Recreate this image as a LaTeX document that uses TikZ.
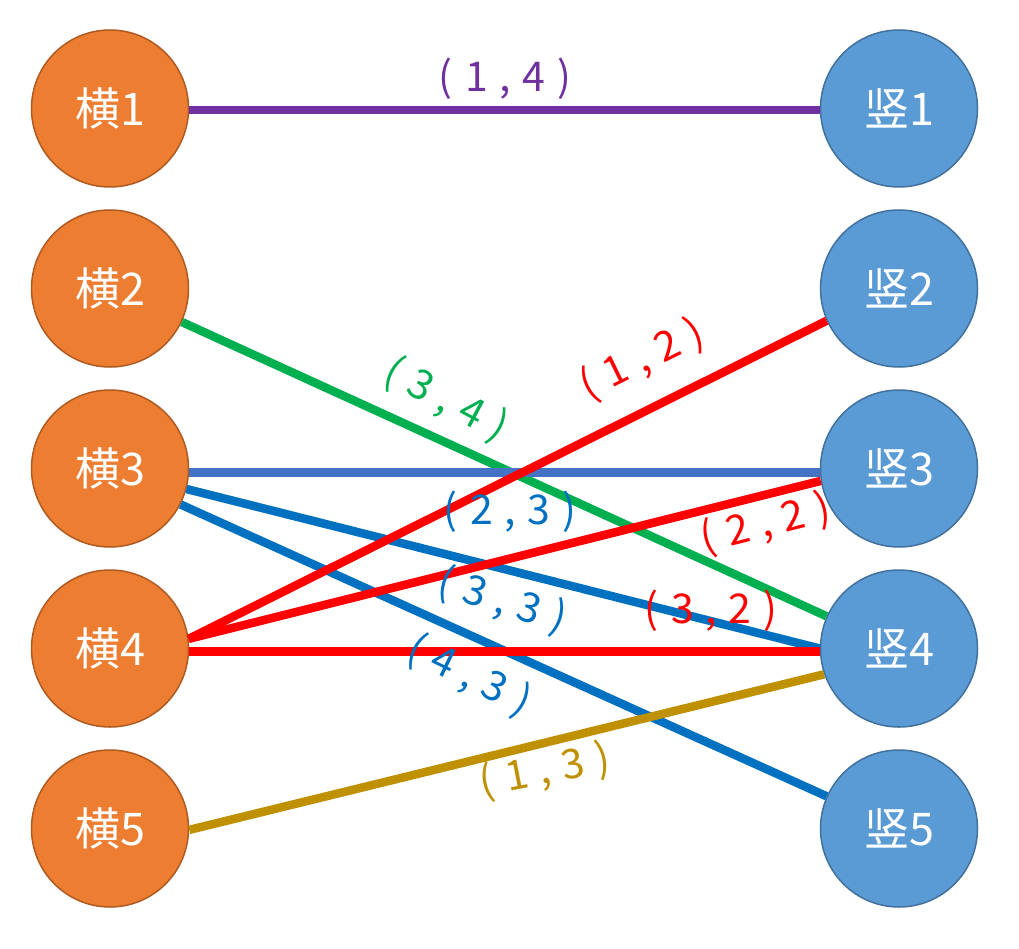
\documentclass[tikz,border=0pt]{standalone}
\usepackage{fontspec}
\setmainfont{Noto Sans CJK SC}
\definecolor{hfill}{HTML}{ED7D31}
\definecolor{hline}{HTML}{AE5A21}
\definecolor{sfill}{HTML}{5B9BD5}
\definecolor{sline}{HTML}{41719C}
\definecolor{cpurple}{HTML}{7030A0}
\definecolor{cgreen}{HTML}{00B050}
\definecolor{clblue}{HTML}{4472C4}
\definecolor{cblue}{HTML}{0070C0}
\definecolor{cred}{HTML}{FF0000}
\definecolor{cgold}{HTML}{BF9000}
\newcommand{\pairtxt}[2]{(\hspace{0.3em}#1\hspace{0.28em},\hspace{0.28em}#2\hspace{0.3em})}
\begin{document}
\begin{tikzpicture}[x=1pt,y=-1pt,
  hnode/.style={circle, minimum size=157pt, inner sep=0pt, fill=hfill, draw=hline, line width=1.5pt, text=white, font=\fontsize{45}{50}\selectfont},
  snode/.style={circle, minimum size=157pt, inner sep=0pt, fill=sfill, draw=sline, line width=1.5pt, text=white, font=\fontsize{45}{50}\selectfont},
  link/.style={line width=8.5pt},
  lab/.style={inner sep=0pt, font=\fontsize{41}{46}\selectfont}]
\useasboundingbox (0,0) rectangle (1019,949);
\node[hnode] (h1) at (110,108.5) {横1};
\node[hnode] (h2) at (110,288.5) {横2};
\node[hnode] (h3) at (110,468.5) {横3};
\node[hnode] (h4) at (110,648.5) {横4};
\node[hnode] (h5) at (110,828.5) {横5};
\node[snode] (s1) at (899,108.5) {竖1};
\node[snode] (s2) at (899,288.5) {竖2};
\node[snode] (s3) at (899,468.5) {竖3};
\node[snode] (s4) at (899,648.5) {竖4};
\node[snode] (s5) at (899,828.5) {竖5};
% connectors
\draw[link, cpurple] (h1.-1) -- (s1.181);
\draw[link, cgreen] (h2.-25) -- (s4.156.7);
\draw[link, clblue] (h3.-3) -- (s3.183);
\draw[link, cblue] (h3.-15.6) -- (s4.180);
\draw[link, cblue] (h3.-27.5) -- (s5.156.7);
\draw[link, cred] (h4.7.7) -- (s2.204.6);
\draw[link, cred] (h4.7.7) -- (s3.189.7);
\draw[link, cred] (h4.-2.5) -- (s4.182.5);
\draw[link, cgold] (h5.-1) -- (s4.199.7);
% labels
\node[lab, text=cpurple] (l14) at (505,79) {\pairtxt{1}{4}};
\node[lab, text=cgreen, rotate=-28] (l34) at (446,400) {\pairtxt{3}{4}};
\node[lab, text=cred, rotate=26] (l12) at (642,360) {\pairtxt{1}{2}};
\node[lab, text=cblue] (l23) at (510,512) {\pairtxt{2}{3}};
\node[lab, text=cred, rotate=14] (l22) at (766,524) {\pairtxt{2}{2}};
\node[lab, text=cblue, rotate=-17] (l33) at (502,601) {\pairtxt{3}{3}};
\node[lab, text=cred] (l32) at (711,611) {\pairtxt{3}{2}};
\node[lab, text=cblue, rotate=-26] (l43) at (469,676) {\pairtxt{4}{3}};
\node[lab, text=cgold, rotate=11] (l13) at (545,771) {\pairtxt{1}{3}};
\end{tikzpicture}
\end{document}
